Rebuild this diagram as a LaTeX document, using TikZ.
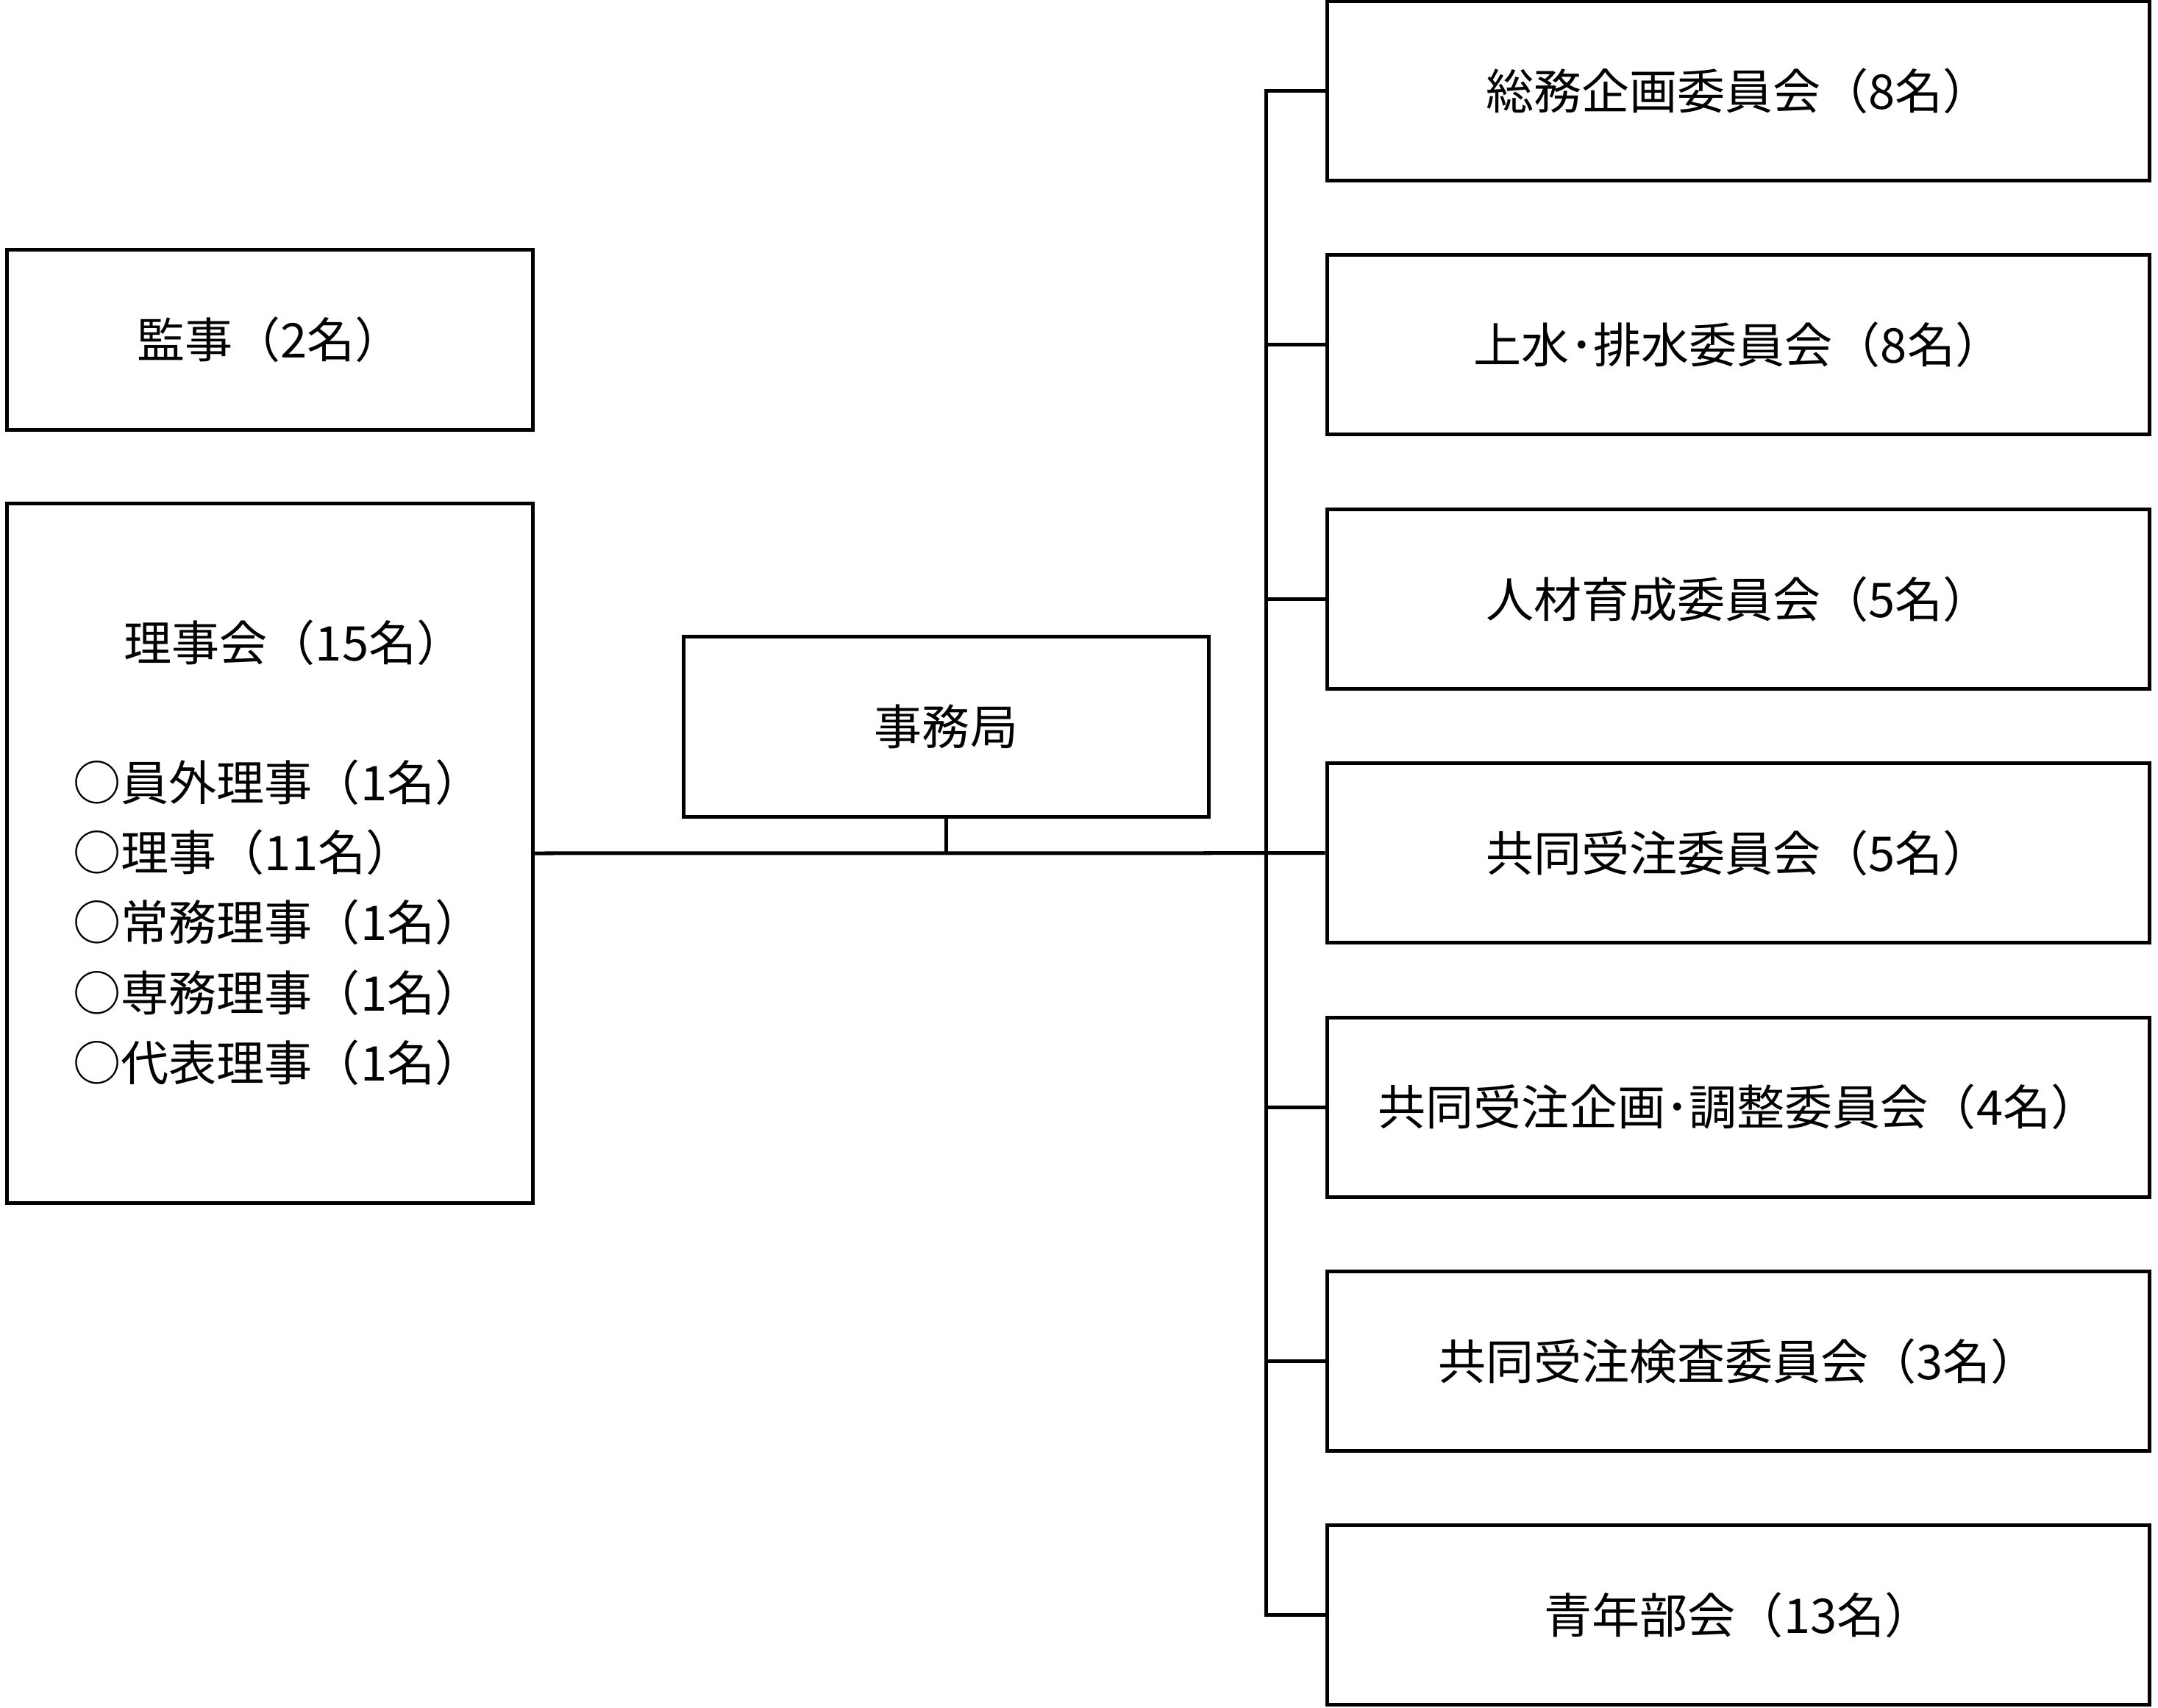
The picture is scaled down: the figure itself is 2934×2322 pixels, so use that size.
\documentclass[tikz,border=0pt]{standalone}
\usepackage{fontspec}
\setmainfont{Noto Sans CJK JP}
\begin{document}
\begin{tikzpicture}[x=0.01cm,y=-0.01cm,
  box/.style={draw, line width=0.05cm, inner sep=0pt, font=\fontsize{18.5pt}{27pt}\selectfont},
  rbox/.style={box, minimum width=11.18cm, minimum height=2.44cm},
  lbox/.style={box, minimum width=7.145cm},
  txt/.style={inner sep=0pt, font=\fontsize{18.5pt}{27.1pt}\selectfont},
  conn/.style={line width=0.05cm}]
\useasboundingbox (0,0) rectangle (2934,2322);
% left column
\node[lbox, minimum height=2.445cm] (kanji) at (366.75,461.75) {監事（2名）};
\node[lbox, minimum height=9.5cm] (riji) at (366.75,1160) {};
\node[txt] (rijititle) at (400,874) {理事会（15名）};
\node[txt, align=left, anchor=west] (rijilist) at (99,1254) {○員外理事（1名）\\○理事（11名）\\○常務理事（1名）\\○専務理事（1名）\\○代表理事（1名）};
% secretariat
\node[box, minimum width=7.13cm, minimum height=2.45cm] (jimu) at (1286.5,988) {事務局};
% right column
\node[rbox] (c1) at (2363.5,123.5) {総務企画委員会（8名）};
\node[rbox] (c2) at (2363.5,468.9) {上水･排水委員会（8名）};
\node[rbox] (c3) at (2363.5,814.3) {人材育成委員会（5名）};
\node[rbox] (c4) at (2363.5,1159.7) {共同受注委員会（5名）};
\node[rbox] (c5) at (2363.5,1505.1) {共同受注企画･調整委員会（4名）};
\node[rbox] (c6) at (2363.5,1850.5) {共同受注検査委員会（3名）};
\node[rbox] (c7) at (2363.5,2195.9) {青年部会（13名）};
% connectors
\draw[conn] (riji.east) -- (c4.west);
\draw[conn] (jimu.south) -- (jimu.south |- riji.east);
\draw[conn] (c1.west) -- ++(-80,0) |- (c7.west);
\foreach \i in {2,3,5,6} \draw[conn] (c\i.west) -- ++(-80,0);
\end{tikzpicture}
\end{document}
